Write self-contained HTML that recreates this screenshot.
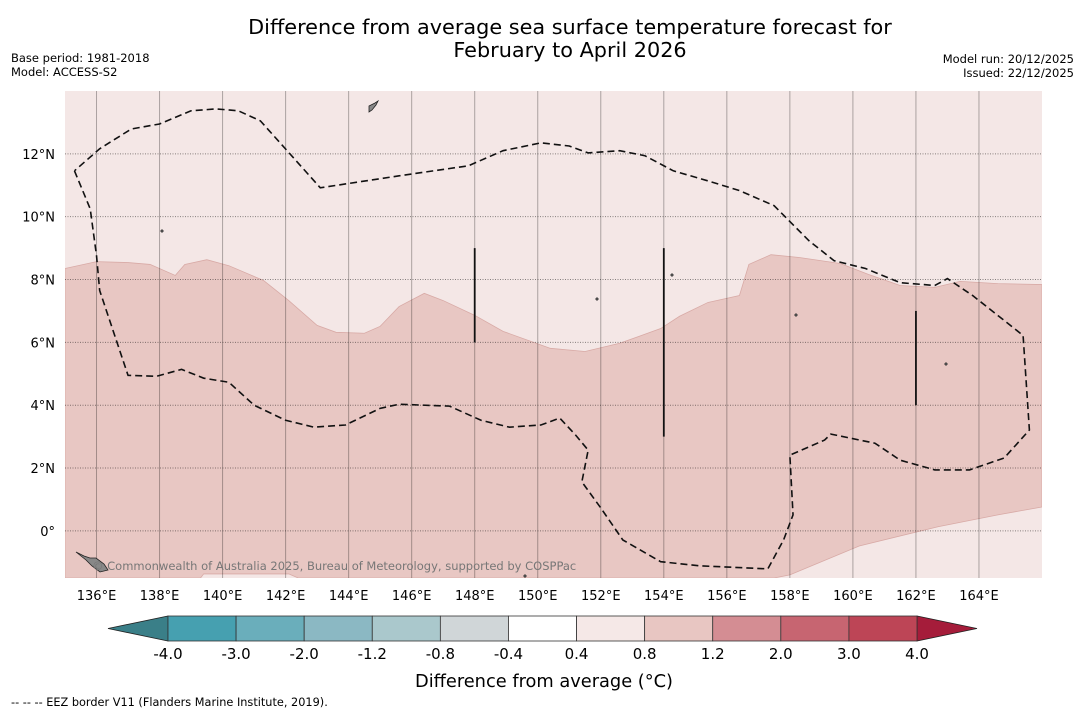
<!DOCTYPE html>
<html><head><meta charset="utf-8"><style>
body{margin:0;background:#fff;width:1085px;height:713px;overflow:hidden;font-family:"DejaVu Sans","Liberation Sans",sans-serif;}
</style></head><body>
<svg width="1085" height="713" xmlns="http://www.w3.org/2000/svg" font-family="DejaVu Sans, Liberation Sans, sans-serif">
<text x="570" y="34" font-size="20.8" text-anchor="middle">Difference from average sea surface temperature forecast for</text>
<text x="570" y="57" font-size="20.8" text-anchor="middle">February to April 2026</text>
<text x="11" y="62" font-size="11.5">Base period: 1981-2018</text>
<text x="11" y="76" font-size="11.5">Model: ACCESS-S2</text>
<text x="1074" y="63" font-size="11.5" text-anchor="end">Model run: 20/12/2025</text>
<text x="1074" y="77" font-size="11.5" text-anchor="end">Issued: 22/12/2025</text>
<defs><clipPath id="mc"><rect x="65" y="91" width="977" height="487"/></clipPath></defs>
<g id="map" clip-path="url(#mc)"></g>
<g id="axes"></g>
<g id="cbar"></g>
<text x="544" y="687" font-size="17.8" text-anchor="middle">Difference from average (°C)</text>
<text x="11" y="706" font-size="11.3">--  --  -- EEZ border V11 (Flanders Marine Institute, 2019).</text>
</svg>
<script>
const lonMin=135, lonMax=166, latMin=-1.5, latMax=14;
const warmLon=[135,136.0,137.0,137.7,138.5,138.8,139.5,140.2,141.3,142.1,143.0,143.6,144.5,145.0,145.6,146.4,147.0,148.0,148.9,150.4,151.5,152.6,153.9,154.5,155.4,156.4,156.7,157.4,158.3,159.6,160.5,161.5,162.6,163.4,164.6,166,166,164.6,162.7,160.2,158.0,157.5,142.4,142.1,139.4,139.3,135];
const warmLat=[8.35,8.57,8.54,8.48,8.13,8.48,8.63,8.44,7.97,7.33,6.54,6.32,6.29,6.51,7.14,7.56,7.33,6.86,6.35,5.81,5.71,5.97,6.44,6.83,7.27,7.49,8.48,8.79,8.7,8.51,8.16,7.81,7.75,7.94,7.87,7.84,0.76,0.51,0.13,-0.48,-1.4,-1.5,-1.5,-1.37,-1.37,-1.5,-1.5];
const eezLon=[135.3,135.8,136.0,136.1,137.0,137.9,138.7,139.4,140.2,141.0,142.0,142.9,143.9,145.0,145.6,147.2,148.2,149.1,150.1,150.7,151.2,151.6,151.4,152.0,152.7,153.9,155.1,157.3,157.8,158.1,158.0,159.1,159.3,160.7,161.5,162.6,163.7,164.8,165.6,165.4,163.8,163.0,162.6,161.5,160.4,159.4,158.6,157.5,156.4,155.4,154.3,153.4,152.6,151.6,151.0,150.1,148.9,147.8,145.6,143.1,141.2,140.5,139.8,139.0,138.0,137.1,136.1,135.3];
const eezLat=[11.46,10.25,8.76,7.65,4.95,4.92,5.14,4.86,4.73,4.0,3.52,3.3,3.37,3.9,4.03,3.97,3.52,3.3,3.37,3.59,3.05,2.57,1.56,0.73,-0.29,-0.98,-1.11,-1.21,-0.29,0.51,2.41,2.89,3.08,2.79,2.25,1.94,1.94,2.32,3.21,6.22,7.49,8.03,7.81,7.9,8.35,8.6,9.24,10.35,10.83,11.14,11.46,11.94,12.1,12.03,12.25,12.35,12.1,11.62,11.3,10.92,13.05,13.37,13.43,13.37,12.95,12.79,12.16,11.46];
const segLon=[148,154,162];
const segLat1=[9,9,7];
const segLat2=[6,3,4];
const xTicks=[136,138,140,142,144,146,148,150,152,154,156,158,160,162,164];
const yTicks=[0,2,4,6,8,10,12];
const cbLabels=["-4.0","-3.0","-2.0","-1.2","-0.8","-0.4","0.4","0.8","1.2","2.0","3.0","4.0"];
const cbColors=["#46a0b0","#6aaebb","#8bb8c3","#aac8cc","#d0d6d8","#ffffff","#f5e8e7","#e8c6c2","#d48d93","#c76571","#bd4556"];
const NS="http://www.w3.org/2000/svg";
const X=l=>65+(l-lonMin)*977/(lonMax-lonMin);
const Y=l=>578-(l-latMin)*487/(latMax-latMin);
function mk(t,a,p){const e=document.createElementNS(NS,t);for(const k in a)e.setAttribute(k,a[k]);p.appendChild(e);return e;}
const map=document.getElementById('map');
let bg=mk('rect',{x:65,y:91,width:977,height:487,fill:'#f4e7e6'},map);


let wp=mk('polygon',{points:warmLon.map((l,i)=>X(l)+','+Y(warmLat[i])).join(' '),fill:'#e8c7c3',stroke:'#d8aaa6','stroke-width':0.8},map);


xTicks.forEach(l=>{let g=mk('line',{x1:X(l),x2:X(l),y1:91,y2:578,stroke:'rgba(0,0,0,0.3)','stroke-width':1},map);

});
yTicks.forEach(t=>{let g=mk('line',{x1:65,x2:1042,y1:Y(t),y2:Y(t),stroke:'rgba(0,0,0,0.45)','stroke-width':1,'stroke-dasharray':'1,1.5'},map);

});
let eez=mk('polyline',{points:eezLon.map((l,i)=>X(l)+','+Y(eezLat[i])).join(' '),fill:'none',stroke:'#111','stroke-width':1.6,'stroke-dasharray':'7,4'},map);


segLon.forEach((l,i)=>{let s=mk('line',{x1:X(l),x2:X(l),y1:Y(segLat1[i]),y2:Y(segLat2[i]),stroke:'#111','stroke-width':1.8},map);

});
let isl=mk('path',{d:'M76 552 L84 556 L90 558 L96 558 L104 564 L108 570 L100 572 L92 566 L86 560 Z',fill:'#888',stroke:'#222','stroke-width':0.8},map);


let isl2=mk('path',{d:'M369 106 L375 103 L378 101 L376 105 L372 110 L369 112 Z',fill:'#888',stroke:'#222','stroke-width':0.8},map);


[[796,315],[162,231],[597,299],[672,275],[946,364],[525,576]].forEach(p=>{let d=mk('circle',{cx:p[0],cy:p[1],r:1.3,fill:'#555',stroke:'#222','stroke-width':0.5},map);

});
let cp=mk('text',{x:92,y:570,'font-size':11.5,fill:'#777'},map);cp.textContent='© Commonwealth of Australia 2025, Bureau of Meteorology, supported by COSPPac';


const ax=document.getElementById('axes');
xTicks.forEach(t=>{let tx=mk('text',{x:X(t),y:600,'font-size':13,'text-anchor':'middle'},ax);tx.textContent=t+'°E';

});
yTicks.forEach(t=>{let tx=mk('text',{x:55,y:Y(t)+5,'font-size':13,'text-anchor':'end'},ax);tx.textContent=t===0?'0°':t+'°N';

});
const cb=document.getElementById('cbar');
const cx0=168,cx1=917,cy0=616,cy1=641,sw=(cx1-cx0)/cbColors.length;
let lt=mk('polygon',{points:`108,628.5 ${cx0},${cy0} ${cx0},${cy1}`,fill:'#3a7f88',stroke:'#222','stroke-width':0.8},cb);


let rt=mk('polygon',{points:`977,628.5 ${cx1},${cy0} ${cx1},${cy1}`,fill:'#a51c3a',stroke:'#222','stroke-width':0.8},cb);


cbColors.forEach((c,i)=>{let r=mk('rect',{x:cx0+i*sw,y:cy0,width:sw,height:cy1-cy0,fill:c,stroke:'#333','stroke-width':0.8},cb);

});
cbLabels.forEach((t,i)=>{let tx=mk('text',{x:cx0+i*sw,y:659,'font-size':15,'text-anchor':'middle'},cb);tx.textContent=t;

});
</script>
</body></html>
